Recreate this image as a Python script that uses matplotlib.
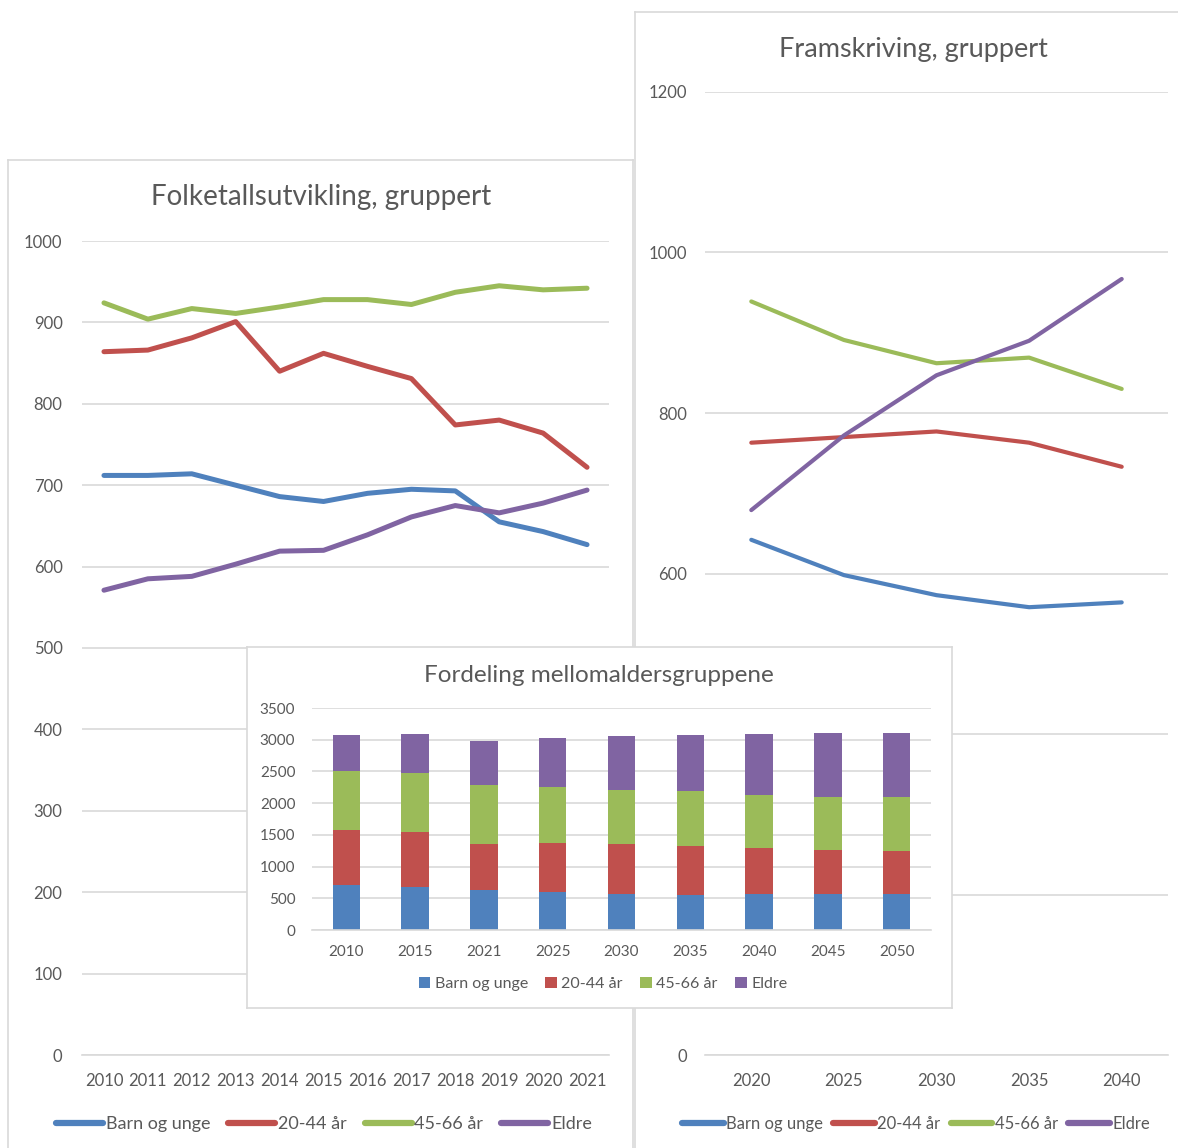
import matplotlib
matplotlib.use("Agg")
import matplotlib.pyplot as plt
import numpy as np

plt.rcParams['font.family'] = ['Lato', 'DejaVu Sans']

W, H = 1178, 1148
TXT = '#595959'
GRID = '#d9d9d9'

series_names = ["Barn og unge", "20-44 år", "45-66 år", "Eldre"]
colors = ["#4F81BD", "#C0504D", "#9BBB59", "#8064A2"]

# Folketallsutvikling 2010-2021
hist_years = [2010, 2011, 2012, 2013, 2014, 2015, 2016, 2017, 2018, 2019, 2020, 2021]
hist_barn = [712, 712, 714, 700, 686, 680, 690, 695, 693, 655, 643, 627]
hist_2044 = [864, 866, 881, 901, 840, 862, 846, 831, 774, 780, 764, 722]
hist_4566 = [924, 904, 917, 911, 919, 928, 928, 922, 937, 945, 940, 942]
hist_eldre = [571, 585, 588, 603, 619, 620, 639, 661, 675, 666, 678, 694]

# Framskriving 2020-2040
proj_years = [2020, 2025, 2030, 2035, 2040]
proj_barn = [642, 598, 573, 558, 564]
proj_2044 = [763, 770, 777, 763, 733]
proj_4566 = [939, 891, 862, 869, 830]
proj_eldre = [679, 772, 847, 890, 967]

# Fordeling mellomaldersgruppene
bar_years = [2010, 2015, 2021, 2025, 2030, 2035, 2040, 2045, 2050]
bar_barn = [712, 680, 627, 598, 573, 558, 564, 574, 574]
bar_2044 = [864, 862, 722, 770, 777, 763, 733, 689, 679]
bar_4566 = [924, 928, 942, 891, 862, 869, 830, 837, 847]
bar_eldre = [571, 620, 694, 771, 847, 890, 967, 1000, 1000]


def rect(x0, y0, x1, y1):
    # pixel box (top-left origin) -> figure fraction
    return [x0 / W, 1 - y1 / H, (x1 - x0) / W, (y1 - y0) / H]


def frame(fig, x0, y0, x1, y1):
    fa = fig.add_axes(rect(x0, y0, x1, y1))
    fa.set_xticks([])
    fa.set_yticks([])
    fa.set_facecolor('white')
    for s in fa.spines.values():
        s.set_color(GRID)
        s.set_linewidth(1.2)
    return fa


def style_axis(ax, ymax, ystep, ypad, xpad, fs):
    ax.set_ylim(0, ymax)
    ax.set_yticks(range(0, ymax + 1, ystep))
    ax.grid(axis='y', color=GRID, lw=1.2)
    ax.set_axisbelow(True)
    for k in ['top', 'left', 'right']:
        ax.spines[k].set_visible(False)
    ax.spines['bottom'].set_color(GRID)
    ax.spines['bottom'].set_linewidth(1.2)
    ax.tick_params(axis='y', length=0, labelsize=fs, colors=TXT, pad=ypad)
    ax.tick_params(axis='x', length=0, labelsize=fs, colors=TXT, pad=xpad)
    ax.patch.set_alpha(0)


def line_panel(fig, box, years, data, ymax, ystep, lw, ypad, leg_xy, leg_fs, hlen, cspace):
    ax = fig.add_axes(rect(*box))
    x = np.arange(len(years))
    for vals, c, name in zip(data, colors, series_names):
        ax.plot(x, vals, color=c, lw=lw, label=name, solid_capstyle='round')
    ax.set_xlim(-0.5, len(years) - 0.5)
    ax.set_xticks(x, [str(y) for y in years])
    style_axis(ax, ymax, ystep, ypad, 13, 12)
    leg = ax.legend(loc='center', bbox_to_anchor=(leg_xy[0] / W, 1 - leg_xy[1] / H),
                    bbox_transform=fig.transFigure, ncol=4, frameon=False,
                    handlelength=hlen, handletextpad=0.15, columnspacing=cspace,
                    fontsize=leg_fs, labelcolor=TXT)
    for l in leg.get_lines():
        l.set_linewidth(4.5)
    return ax


fig = plt.figure(figsize=(W / 100, H / 100), dpi=100)

# left chart
frame(fig, 8, 160, 633, 1170)
line_panel(fig, (82, 241, 609, 1055), hist_years,
           [hist_barn, hist_2044, hist_4566, hist_eldre], 1000, 100, 3.6, 14, (324, 1124),
           13, 2.6, 1.0)
fig.text(321 / W, 1 - 197 / H, "Folketallsutvikling, gruppert", ha='center', va='center',
         fontsize=20, color=TXT)

# right chart
frame(fig, 635, 12, 1190, 1170)
line_panel(fig, (705, 92, 1168, 1055), proj_years,
           [proj_barn, proj_2044, proj_4566, proj_eldre], 1200, 200, 3.0, 13, (916, 1124),
           12, 2.5, 0.6)
fig.text(913 / W, 1 - 49 / H, "Framskriving, gruppert", ha='center', va='center',
         fontsize=19.5, color=TXT)

# bar chart on top
frame(fig, 247, 647, 952, 1008)
ax3 = fig.add_axes(rect(312, 708, 931, 930))
xb = np.arange(len(bar_years))
bottom = np.zeros(len(bar_years))
for vals, c, name in zip([bar_barn, bar_2044, bar_4566, bar_eldre], colors, series_names):
    ax3.bar(xb, vals, 0.4, bottom=bottom, color=c, label=name)
    bottom += np.array(vals)
ax3.set_xlim(-0.5, len(bar_years) - 0.5)
ax3.set_xticks(xb, [str(y) for y in bar_years])
style_axis(ax3, 3500, 500, 12, 11, 11)
ax3.legend(loc='center', bbox_to_anchor=(603 / W, 1 - 984 / H), bbox_transform=fig.transFigure,
           ncol=4, frameon=False, handlelength=0.7, handleheight=0.7, handletextpad=0.3,
           columnspacing=1.1, fontsize=11.5, labelcolor=TXT)
fig.text(599 / W, 1 - 675 / H, "Fordeling mellomaldersgruppene", ha='center', va='center',
         fontsize=17.5, color=TXT)

fig.savefig('out.png', dpi=100)
